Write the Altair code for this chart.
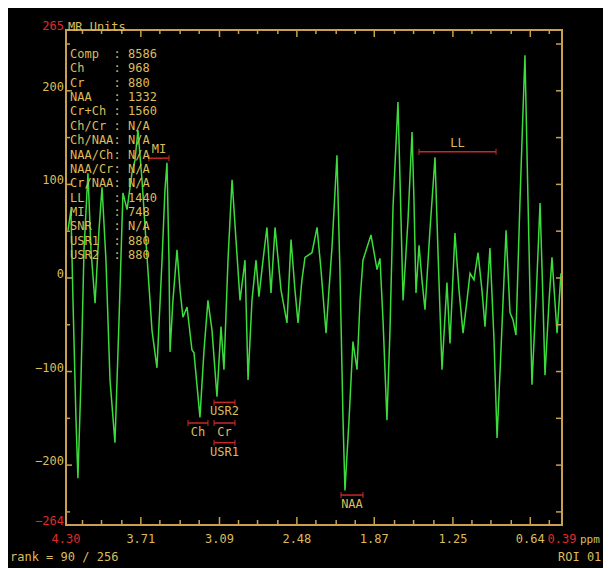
import altair as alt
import pandas as pd

# ---- spectrum (ppm, MR units) ----
ppm = [4.284, 4.261, 4.245, 4.221, 4.206, 4.182, 4.158, 4.127, 4.103, 4.071,
       4.040, 4.016, 3.985, 3.953, 3.914, 3.882, 3.851, 3.819, 3.780, 3.756,
       3.733, 3.701, 3.661, 3.622, 3.583, 3.543, 3.520, 3.504, 3.488, 3.480,
       3.457, 3.425, 3.401, 3.378, 3.346,
       3.307, 3.291, 3.244, 3.212, 3.181, 3.149, 3.110, 3.078, 3.055, 3.023,
       2.991, 2.960, 2.928, 2.889, 2.865, 2.834, 2.802, 2.779, 2.747, 2.716,
       2.684, 2.652, 2.605, 2.558, 2.526, 2.495, 2.471, 2.440, 2.416, 2.361,
       2.321, 2.290, 2.250, 2.227, 2.203, 2.164, 2.140, 2.116, 2.101, 2.069,
       2.038, 2.006, 1.982, 1.959, 1.896, 1.848, 1.825, 1.801, 1.770, 1.746,
       1.722, 1.683, 1.667, 1.643, 1.604, 1.572, 1.557, 1.541, 1.517, 1.494,
       1.470, 1.431, 1.391, 1.368, 1.336, 1.297, 1.273, 1.234, 1.202, 1.170,
       1.139, 1.115, 1.084, 1.052, 1.021, 0.997, 0.958, 0.926, 0.902, 0.871,
       0.831, 0.800, 0.776, 0.753, 0.721, 0.697, 0.682, 0.658, 0.627, 0.595,
       0.563, 0.540, 0.524, 0.492, 0.469, 0.429, 0.398]
mr_units = [51, 73, -24, -152, -214, -109, 30, 112, 30, -27,
            51, 97, 19, -109, -176, -45, 91, 73, 112, 126,
            158, 105, 22, -56, -96, 19, 94, 123, 19, -79,
            -24, 30, -13, -42, -31,
            -77, -80, -149, -77, -24, -56, -127, -52, -98, 19,
            105, 41, -24, 19, -109, -24, 19, -20, 19, 54,
            -16, 54, -13, -48, 41, -13, -48, -2, 22, 27,
            54, 9, -59, -13, 33, 131, 5, -152, -227, -152,
            -68, -98, -24, 19, 46, 9, 21, -45, -152, -56,
            76, 188, 105, -24, 62, 156, 83, -16, 35, -2,
            -34, 51, 129, 30, -98, -5, -70, 48, -13, -59,
            -24, 5, -2, 27, -13, -52, 32, -66, -171, -77,
            51, -37, -45, -61, 83, 180, 238, 83, -114, -24,
            80, -24, -104, -24, 22, -59, 5]

# ---- axes ----
x_labels = [4.30, 3.71, 3.09, 2.48, 1.87, 1.25, 0.64, 0.39]
x_major = [3.71, 3.09, 2.48, 1.87, 1.25, 0.64]
x_minor = [4.17, 4.02, 3.86, 3.56, 3.40, 3.25, 2.94, 2.79, 2.63, 2.33,
           2.17, 2.02, 1.71, 1.56, 1.40, 1.10, 0.95, 0.79, 0.49]
y_labels = [265, 200, 100, 0, -100, -200, -264]
y_major = [200, 100, 0, -100, -200]
y_minor = [250, 150, 50, -50, -150, -250]

# ---- region markers ----
marker_names = ["MI", "LL", "USR2", "Ch", "Cr", "USR1", "NAA"]
marker_from = [3.646, 1.517, 3.133, 3.338, 3.133, 3.133, 2.132]
marker_to = [3.488, 0.910, 2.968, 3.181, 2.968, 2.968, 1.959]
marker_level = [128, 135, -133, -155, -155, -176, -232]
marker_side = ["above", "above", "below", "below", "below", "below", "below"]

# ---- stats table ----
stat_names = ["Comp", "Ch", "Cr", "NAA", "Cr+Ch", "Ch/Cr", "Ch/NAA", "NAA/Ch",
              "NAA/Cr", "Cr/NAA", "LL", "MI", "SNR", "USR1", "USR2"]
stat_values = ["8586", "968", "880", "1332", "1560", "N/A", "N/A", "N/A",
               "N/A", "N/A", "1440", "748", "N/A", "880", "880"]

FONT = "DejaVu Sans Mono"
AX = "#c8a050"
TAN = "#dcbc5c"
RED_TXT = "#e02a2a"
RED_BAR = "#c82828"
GREEN = "#3cdc3c"
W, H = 496, 495

xs = alt.Scale(domain=[0.39, 4.30], reverse=True, nice=False, zero=False)
ys = alt.Scale(domain=[-264, 265], nice=False, zero=False)

spec_df = pd.DataFrame({"ppm": ppm, "mr": mr_units})
line = alt.Chart(spec_df).mark_line(color=GREEN, strokeWidth=1.5, clip=True).encode(
    x=alt.X("ppm:Q", scale=xs, axis=None),
    y=alt.Y("mr:Q", scale=ys, axis=None),
)

# axis labels (end values in red)
xl = alt.Chart(pd.DataFrame({"v": x_labels})).mark_text(
    font=FONT, fontSize=12, baseline="alphabetic", align="center"
).encode(
    x=alt.X("v:Q", scale=xs, axis=None),
    y=alt.value(H + 18),
    text=alt.Text("v:Q", format=".2f"),
    color=alt.condition("datum.v > 4.29 || datum.v < 0.40", alt.value(RED_TXT), alt.value(TAN)),
)
yl = alt.Chart(pd.DataFrame({"v": y_labels})).mark_text(
    font=FONT, fontSize=12, baseline="alphabetic", align="right"
).encode(
    y=alt.Y("v:Q", scale=ys, axis=None),
    x=alt.value(-2),
    text=alt.Text("v:Q", format="d"),
    color=alt.condition("datum.v > 260 || datum.v < -260", alt.value(RED_TXT), alt.value(TAN)),
)


def xticks(vals, top, length):
    c = alt.Chart(pd.DataFrame({"t": vals})).mark_rule(color=AX, strokeWidth=1.5)
    if top:
        return c.encode(x=alt.X("t:Q", scale=xs, axis=None), y=alt.value(0), y2=alt.value(length))
    return c.encode(x=alt.X("t:Q", scale=xs, axis=None), y=alt.value(H), y2=alt.value(H - length))


def yticks(vals, left, length):
    c = alt.Chart(pd.DataFrame({"t": vals})).mark_rule(color=AX, strokeWidth=1.5)
    if left:
        return c.encode(y=alt.Y("t:Q", scale=ys, axis=None), x=alt.value(0), x2=alt.value(length))
    return c.encode(y=alt.Y("t:Q", scale=ys, axis=None), x=alt.value(W), x2=alt.value(W - length))


ticks = [
    xticks(x_major, False, 8), xticks(x_minor, False, 5),
    xticks(x_major, True, 7), xticks(x_minor, True, 4),
    yticks(y_major, True, 6), yticks(y_minor, True, 4),
    yticks(y_major, False, 6), yticks(y_minor, False, 6),
]

mk_df = pd.DataFrame({"name": marker_names, "a": marker_from, "b": marker_to,
                      "lvl": marker_level, "side": marker_side})
mk_base = alt.Chart(mk_df)
mk_bar = mk_base.mark_rule(color=RED_BAR, strokeWidth=1.5).encode(
    x=alt.X("a:Q", scale=xs, axis=None), x2="b:Q", y=alt.Y("lvl:Q", scale=ys, axis=None))
cap_a = mk_base.mark_tick(color=RED_BAR, orient="vertical", size=6, thickness=1.5).encode(
    x=alt.X("a:Q", scale=xs, axis=None), y=alt.Y("lvl:Q", scale=ys, axis=None))
cap_b = mk_base.mark_tick(color=RED_BAR, orient="vertical", size=6, thickness=1.5).encode(
    x=alt.X("b:Q", scale=xs, axis=None), y=alt.Y("lvl:Q", scale=ys, axis=None))
lbl_above = mk_base.transform_filter(alt.datum.side == "above").transform_calculate(
    mid="(datum.a + datum.b) / 2").mark_text(
    font=FONT, fontSize=12, color=TAN, baseline="bottom", dy=-2).encode(
    x=alt.X("mid:Q", scale=xs, axis=None), y=alt.Y("lvl:Q", scale=ys, axis=None), text="name:N")
lbl_below = mk_base.transform_filter(alt.datum.side == "below").transform_calculate(
    mid="(datum.a + datum.b) / 2").mark_text(
    font=FONT, fontSize=12, color=TAN, baseline="top", dy=4).encode(
    x=alt.X("mid:Q", scale=xs, axis=None), y=alt.Y("lvl:Q", scale=ys, axis=None), text="name:N")

one = pd.DataFrame({"k": [0]})
LH = 14.36


def col(texts, x, align):
    return alt.Chart(one).mark_text(
        align=align, baseline="alphabetic", font=FONT, fontSize=12, color=TAN, lineHeight=LH
    ).encode(x=alt.value(x), y=alt.value(28), text=alt.value(texts))


stats = [col(stat_names, 4, "left"), col([":"] * len(stat_names), 51, "center"),
         col(stat_values, 62, "left")]


def label(txt, x, y, align="left", color=TAN, size=12):
    return alt.Chart(one).mark_text(
        align=align, baseline="alphabetic", font=FONT, fontSize=size, color=color
    ).encode(x=alt.value(x), y=alt.value(y), text=alt.value(txt))


extras = [
    label("MR Units", 2, 1),
    label("ppm", 514, 513, size=11),
    label("rank = 90 / 256", -56, 531),
    label("ROI 01", 492, 531),
]

chart = alt.layer(line, *ticks, mk_bar, cap_a, cap_b, lbl_above, lbl_below,
                  xl, yl, *stats, *extras).properties(
    width=W, height=H, background="black",
    padding={"left": 58, "top": 22, "right": 41, "bottom": 52},
    autosize=alt.AutoSizeParams(type="none"),
).configure_view(stroke=AX, strokeWidth=2)

chart.save("out.html", embed_options={"renderer": "svg", "actions": False})
